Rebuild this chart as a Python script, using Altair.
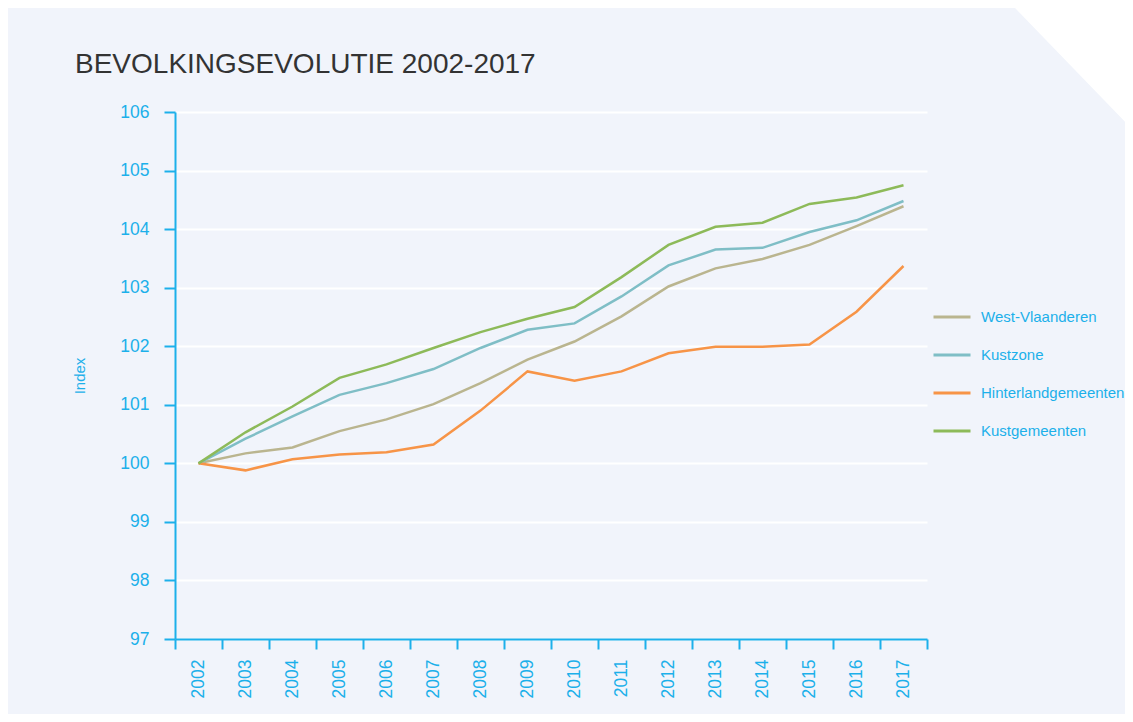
import altair as alt
import pandas as pd

years = ["2002", "2003", "2004", "2005", "2006", "2007", "2008", "2009",
         "2010", "2011", "2012", "2013", "2014", "2015", "2016", "2017"]
west_vlaanderen = [100.00, 100.17, 100.27, 100.55, 100.75, 101.01, 101.37, 101.77,
                   102.08, 102.51, 103.02, 103.33, 103.49, 103.73, 104.05, 104.39]
kustzone = [100.00, 100.42, 100.80, 101.17, 101.37, 101.61, 101.97, 102.28,
            102.39, 102.85, 103.38, 103.65, 103.68, 103.95, 104.15, 104.48]
hinterlandgemeenten = [100.00, 99.88, 100.07, 100.15, 100.19, 100.32, 100.90, 101.57,
                       101.41, 101.57, 101.88, 101.99, 101.99, 102.03, 102.59, 103.37]
kustgemeenten = [100.00, 100.53, 100.97, 101.46, 101.69, 101.97, 102.24, 102.47,
                 102.67, 103.18, 103.73, 104.04, 104.11, 104.43, 104.54, 104.75]

series_names = ["West-Vlaanderen", "Kustzone", "Hinterlandgemeenten", "Kustgemeenten"]
series_values = [west_vlaanderen, kustzone, hinterlandgemeenten, kustgemeenten]
series_colors = ["#bab58f", "#7fbec6", "#f79447", "#8dba59"]
y_ticks = [97, 98, 99, 100, 101, 102, 103, 104, 105, 106]
title_text = "BEVOLKINGSEVOLUTIE 2002-2017"

rows = []
for name, vals in zip(series_names, series_values):
    for yr, v in zip(years, vals):
        rows.append({"Jaar": yr, "Index": v, "Reeks": name})
df = pd.DataFrame(rows)

CYAN = "#1cb0ea"
FONT = "Liberation Sans"

lines = alt.Chart(df).mark_line(strokeWidth=2.5).encode(
    x=alt.X(
        "Jaar:O",
        sort=years,
        bandPosition=0.5,
        scale=alt.Scale(type="band", paddingInner=0, paddingOuter=0),
        axis=alt.Axis(
            title=None, labelAngle=-90, tickBand="extent", grid=False,
            domainColor=CYAN, domainWidth=2, tickColor=CYAN, tickWidth=2,
            tickSize=10, labelColor=CYAN, labelFontSize=17.5, labelFont=FONT,
            labelPadding=10,
        ),
    ),
    y=alt.Y(
        "Index:Q",
        scale=alt.Scale(domain=[97, 106], nice=False, zero=False),
        axis=alt.Axis(
            values=y_ticks, title="Index", titleColor=CYAN, titleFont=FONT,
            titleFontSize=15, titleFontWeight="normal", titleAngle=-90,
            titleX=-91, titleY=263.5, titleBaseline="alphabetic", titleAlign="center",
            domainColor=CYAN, domainWidth=2, tickColor=CYAN, tickWidth=2,
            tickSize=11, labelColor=CYAN, labelFontSize=17.5, labelFont=FONT,
            labelPadding=15, grid=True, gridColor="#ffffff", gridWidth=2,
            gridOpacity=1,
        ),
    ),
    color=alt.Color(
        "Reeks:N",
        scale=alt.Scale(domain=series_names, range=series_colors),
        legend=alt.Legend(
            title=None, orient="none", legendX=757, legendY=185,
            symbolType="stroke", symbolSize=1369, symbolStrokeWidth=3,
            labelFontSize=15, labelColor=CYAN, labelFont=FONT,
            labelOffset=9, rowPadding=10, padding=0,
        ),
    ),
)

corner = alt.Chart(alt.Data(values=[{"k": 1}])).mark_point(
    shape="M-1.1267,-1.2 L1.2,-1.2 L1.2,1.207 Z",
    size=14400, filled=True, fill="#ffffff", opacity=1, strokeWidth=0,
).encode(x=alt.value(898), y=alt.value(-42))

title = alt.Chart(alt.Data(values=[{"t": title_text}])).mark_text(
    align="left", baseline="alphabetic", fontSize=28, font=FONT,
    fontWeight="normal", color="#333333",
).encode(text="t:N", x=alt.value(-100), y=alt.value(-39))

chart = alt.layer(lines, corner, title).properties(
    width=752,
    height=527,
    autosize=alt.AutoSizeParams(type="none"),
    padding={"left": 167, "top": 104, "right": 198, "bottom": 75},
    background="#f1f4fb",
).configure_view(stroke="transparent")

chart.save("out.html", embed_options={"renderer": "svg", "actions": False})
